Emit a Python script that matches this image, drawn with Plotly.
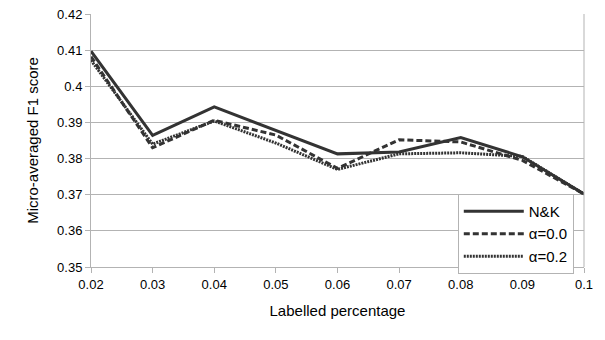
import plotly.graph_objects as go

# labelled percentage (x) and micro-averaged F1 for each method
pct = [0.02, 0.03, 0.04, 0.05, 0.06, 0.07, 0.08, 0.09, 0.1]
nk = [0.4097, 0.3864, 0.3943, 0.3877, 0.3813, 0.3818, 0.3858, 0.3805, 0.3702]
alpha00 = [0.4082, 0.3830, 0.3906, 0.3865, 0.3773, 0.3852, 0.3846, 0.3795, 0.3702]
alpha02 = [0.4072, 0.3840, 0.3904, 0.3843, 0.3770, 0.3813, 0.3816, 0.3806, 0.3702]

line_col = "#333333"
grid_col = "#b3b3b3"

fig = go.Figure()
fig.add_trace(go.Scatter(x=pct, y=nk, name="N&K", mode="lines",
                         line=dict(color=line_col, width=3, dash="solid")))
fig.add_trace(go.Scatter(x=pct, y=alpha00, name="α=0.0", mode="lines",
                         line=dict(color=line_col, width=3, dash="6px,3px")))
fig.add_trace(go.Scatter(x=pct, y=alpha02, name="α=0.2", mode="lines",
                         line=dict(color=line_col, width=3, dash="2px,1px")))

fig.update_layout(
    width=605, height=340,
    margin=dict(l=91, r=21, t=14, b=73),
    plot_bgcolor="white", paper_bgcolor="white",
    font=dict(family="Liberation Sans, Arial, sans-serif", color="black", size=13),
    legend=dict(x=0.744, y=0.289, xanchor="left", yanchor="top",
                bordercolor=grid_col, borderwidth=1, bgcolor="white",
                font=dict(size=15), tracegroupgap=0, itemwidth=60),
    xaxis=dict(title=dict(text="Labelled percentage", font=dict(size=15), standoff=14),
               range=[0.02, 0.1], tickvals=pct, automargin=False,
               ticktext=["0.02", "0.03", "0.04", "0.05", "0.06", "0.07", "0.08", "0.09", "0.1"],
               showgrid=False, showline=True, linecolor=grid_col, linewidth=1,
               ticks="outside", ticklen=5, tickcolor=grid_col, zeroline=False),
    yaxis=dict(title=dict(text="Micro-averaged F1 score", font=dict(size=15), standoff=14),
               range=[0.35, 0.42], automargin=False,
               tickvals=[0.35, 0.36, 0.37, 0.38, 0.39, 0.4, 0.41, 0.42],
               ticktext=["0.35", "0.36", "0.37", "0.38", "0.39", "0.4", "0.41", "0.42"],
               showgrid=True, gridcolor=grid_col, gridwidth=1,
               showline=True, linecolor=grid_col, linewidth=1,
               ticks="outside", ticklen=5, tickcolor=grid_col, zeroline=False),
)

# right border of the plot area
fig.add_shape(type="line", xref="paper", yref="paper", x0=1, x1=1, y0=0, y1=1,
              line=dict(color=grid_col, width=1))

# drop the default 8px page margin so the figure sits at the window corner
fig.write_html("out.html", config={"displayModeBar": False},
               post_script="document.body.style.margin='0';")
